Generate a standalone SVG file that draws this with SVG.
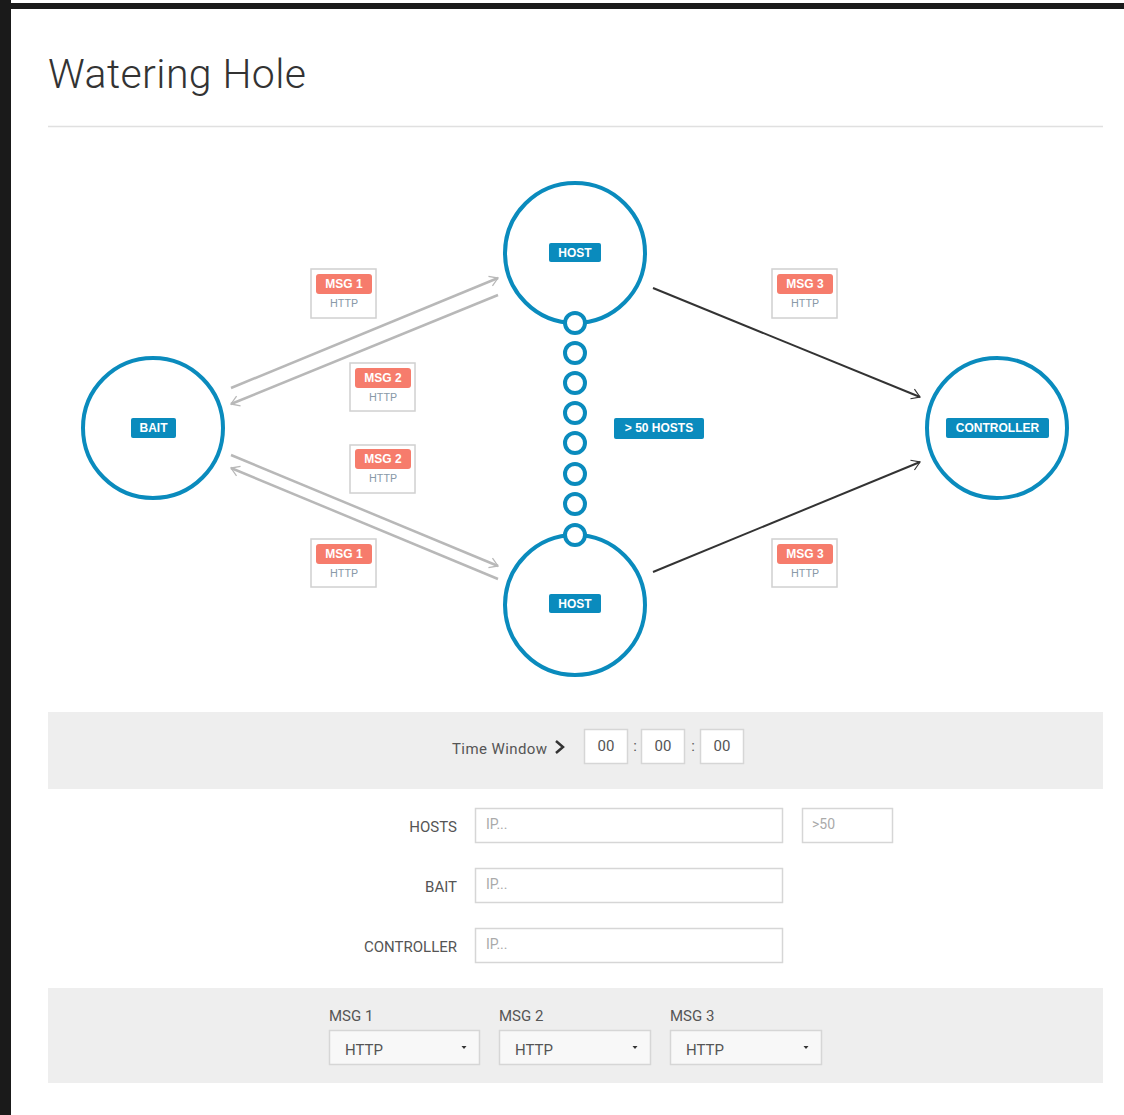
<svg xmlns="http://www.w3.org/2000/svg" width="1124" height="1115" viewBox="0 0 1124 1115">
<style>
.ring{fill:#fff;stroke:#0a8bbd;stroke-width:4}
.dot{fill:#fff;stroke:#0a8bbd;stroke-width:4}
.badge{fill:#0a8bbd}
.btxt{font-family:Arial,"Liberation Sans",sans-serif;font-size:12px;font-weight:bold;fill:#fff;text-anchor:middle}
.mbox{fill:#fff;stroke:#d0d0d0;stroke-width:1.5}
.mbadge{fill:#f67c6c}
.mtxt{font-family:Arial,"Liberation Sans",sans-serif;font-size:12px;font-weight:bold;fill:#fff;text-anchor:middle}
.htxt{font-family:Roboto,"Liberation Sans",sans-serif;font-size:11px;fill:#8a9aa8;text-anchor:middle}
.g{stroke:#b8b8b8;stroke-width:2.5;fill:none}
.d{stroke:#333;stroke-width:2;fill:none}
.lbl{font-family:Roboto,"Liberation Sans",sans-serif;font-size:15px;fill:#555}
.inp{fill:#fff;stroke:#d6d6d6;stroke-width:1.5}
.ph{font-family:Roboto,"Liberation Sans",sans-serif;font-size:14px;fill:#aaa}
.sel{fill:#f8f8f8;stroke:#d6d6d6;stroke-width:1.5}
.panel{fill:#eeeeee}
</style>
<defs>
<marker id="ag" viewBox="0 0 12 12" refX="11" refY="6" markerWidth="7" markerHeight="7" markerUnits="userSpaceOnUse" orient="auto" overflow="visible">
<path d="M-3,-3 L11,6 L-3,15" fill="none" stroke="#b8b8b8" stroke-width="2.2"/>
</marker>
<marker id="ad" viewBox="0 0 12 12" refX="11" refY="6" markerWidth="7" markerHeight="7" markerUnits="userSpaceOnUse" orient="auto" overflow="visible">
<path d="M-3,-3 L11,6 L-3,15" fill="none" stroke="#333" stroke-width="2"/>
</marker>
</defs>
<rect x="0" y="0" width="1124" height="1115" fill="#fff"/>
<rect x="0" y="0" width="11" height="1115" fill="#1a1a1a"/>
<rect x="0" y="3" width="1124" height="6" fill="#1a1a1a"/>
<text x="48" y="88" font-family="Roboto,'Liberation Sans',sans-serif" font-weight="300" font-size="41" letter-spacing="0.4" fill="#333">Watering Hole</text>
<line x1="48" y1="126.5" x2="1103" y2="126.5" stroke="#e0e0e0" stroke-width="1.5"/>

<g id="connectors">
<line class="g" x1="231" y1="388" x2="498" y2="278" marker-end="url(#ag)"/>
<line class="g" x1="498" y1="295" x2="231" y2="404" marker-end="url(#ag)"/>
<line class="g" x1="231" y1="455" x2="498" y2="566" marker-end="url(#ag)"/>
<line class="g" x1="498" y1="579" x2="231" y2="468" marker-end="url(#ag)"/>
<line class="d" x1="653" y1="288" x2="920" y2="397" marker-end="url(#ad)"/>
<line class="d" x1="653" y1="572" x2="920" y2="462" marker-end="url(#ad)"/>
</g>

<g id="host-top">
<circle class="ring" cx="575" cy="253" r="70"/>
<rect class="badge" x="549" y="243" width="52" height="19" rx="2"/>
<text class="btxt" x="575" y="257">HOST</text>
</g>
<g id="host-bottom">
<circle class="ring" cx="575" cy="605" r="70"/>
<rect class="badge" x="549" y="594" width="52" height="19" rx="2"/>
<text class="btxt" x="575" y="608">HOST</text>
</g>
<g id="bait">
<circle class="ring" cx="153" cy="428" r="70"/>
<rect class="badge" x="131" y="418" width="45" height="20" rx="2"/>
<text class="btxt" x="153.5" y="432">BAIT</text>
</g>
<g id="controller">
<circle class="ring" cx="997" cy="428" r="70"/>
<rect class="badge" x="946" y="418" width="103" height="20" rx="2"/>
<text class="btxt" x="997.5" y="432">CONTROLLER</text>
</g>
<g id="host-chain">
<circle class="dot" cx="575" cy="323" r="10"/>
<circle class="dot" cx="575" cy="353" r="10"/>
<circle class="dot" cx="575" cy="383" r="10"/>
<circle class="dot" cx="575" cy="413" r="10"/>
<circle class="dot" cx="575" cy="443" r="10"/>
<circle class="dot" cx="575" cy="474" r="10"/>
<circle class="dot" cx="575" cy="504" r="10"/>
<circle class="dot" cx="575" cy="535" r="10"/>
</g>
<g id="hosts-count">
<rect class="badge" x="614" y="418" width="90" height="21" rx="2"/>
<text class="btxt" x="659" y="432">&gt; 50 HOSTS</text>
</g>

<g id="msg1-top">
<rect class="mbox" x="311" y="269" width="65" height="49"/>
<rect class="mbadge" x="316" y="274" width="56" height="20" rx="3"/>
<text class="mtxt" x="344" y="288">MSG 1</text>
<text class="htxt" x="344" y="307">HTTP</text>
</g>
<g id="msg2-top">
<rect class="mbox" x="350" y="363" width="65" height="48"/>
<rect class="mbadge" x="355" y="368" width="56" height="20" rx="3"/>
<text class="mtxt" x="383" y="382">MSG 2</text>
<text class="htxt" x="383" y="401">HTTP</text>
</g>
<g id="msg2-bottom">
<rect class="mbox" x="350" y="445" width="65" height="48"/>
<rect class="mbadge" x="355" y="449" width="56" height="20" rx="3"/>
<text class="mtxt" x="383" y="463">MSG 2</text>
<text class="htxt" x="383" y="482">HTTP</text>
</g>
<g id="msg1-bottom">
<rect class="mbox" x="311" y="539" width="65" height="48"/>
<rect class="mbadge" x="316" y="544" width="56" height="20" rx="3"/>
<text class="mtxt" x="344" y="558">MSG 1</text>
<text class="htxt" x="344" y="577">HTTP</text>
</g>
<g id="msg3-top">
<rect class="mbox" x="772" y="269" width="65" height="49"/>
<rect class="mbadge" x="777" y="274" width="56" height="20" rx="3"/>
<text class="mtxt" x="805" y="288">MSG 3</text>
<text class="htxt" x="805" y="307">HTTP</text>
</g>
<g id="msg3-bottom">
<rect class="mbox" x="772" y="539" width="65" height="48"/>
<rect class="mbadge" x="777" y="544" width="56" height="20" rx="3"/>
<text class="mtxt" x="805" y="558">MSG 3</text>
<text class="htxt" x="805" y="577">HTTP</text>
</g>

<g id="time-window">
<rect class="panel" x="48" y="712" width="1055" height="77"/>
<text class="lbl" x="452" y="754" font-size="14" fill="#666" textLength="95">Time Window</text>
<path d="M556,741 L563,747 L556,753" fill="none" stroke="#333" stroke-width="2.5"/>
<rect class="inp" x="584.5" y="729.5" width="43" height="34"/>
<rect class="inp" x="641.5" y="729.5" width="43" height="34"/>
<rect class="inp" x="700.5" y="729.5" width="43" height="34"/>
<text class="lbl" x="606" y="751" text-anchor="middle" font-size="14" fill="#666">00</text>
<text class="lbl" x="663" y="751" text-anchor="middle" font-size="14" fill="#666">00</text>
<text class="lbl" x="722" y="751" text-anchor="middle" font-size="14" fill="#666">00</text>
<text class="lbl" x="635" y="751" text-anchor="middle" font-size="14" fill="#888">:</text>
<text class="lbl" x="693" y="751" text-anchor="middle" font-size="14" fill="#888">:</text>
</g>

<g id="ip-fields">
<text class="lbl" x="457" y="832" text-anchor="end" font-size="14">HOSTS</text>
<rect class="inp" x="475.5" y="808.5" width="307" height="34"/>
<text class="ph" x="486" y="829">IP...</text>
<rect class="inp" x="802.5" y="808.5" width="90" height="34"/>
<text class="ph" x="812" y="829" fill="#777">&gt;50</text>
<text class="lbl" x="457" y="892" text-anchor="end" font-size="14">BAIT</text>
<rect class="inp" x="475.5" y="868.5" width="307" height="34"/>
<text class="ph" x="486" y="889">IP...</text>
<text class="lbl" x="457" y="952" text-anchor="end" font-size="14">CONTROLLER</text>
<rect class="inp" x="475.5" y="928.5" width="307" height="34"/>
<text class="ph" x="486" y="949">IP...</text>
</g>

<g id="msg-selects">
<rect class="panel" x="48" y="988" width="1055" height="95"/>
<text class="lbl" x="329" y="1021" font-size="14" fill="#666">MSG 1</text>
<text class="lbl" x="499" y="1021" font-size="14" fill="#666">MSG 2</text>
<text class="lbl" x="670" y="1021" font-size="14" fill="#666">MSG 3</text>
<rect class="sel" x="329.5" y="1030.5" width="150" height="34"/>
<rect class="sel" x="499.5" y="1030.5" width="151" height="34"/>
<rect class="sel" x="670.5" y="1030.5" width="151" height="34"/>
<text class="lbl" x="345" y="1055" font-size="14" fill="#444">HTTP</text>
<text class="lbl" x="515" y="1055" font-size="14" fill="#444">HTTP</text>
<text class="lbl" x="686" y="1055" font-size="14" fill="#444">HTTP</text>
<path d="M461.5,1046 L466.5,1046 L464,1049 Z" fill="#333"/>
<path d="M632.5,1046 L637.5,1046 L635,1049 Z" fill="#333"/>
<path d="M803.5,1046 L808.5,1046 L806,1049 Z" fill="#333"/>
</g>
</svg>
